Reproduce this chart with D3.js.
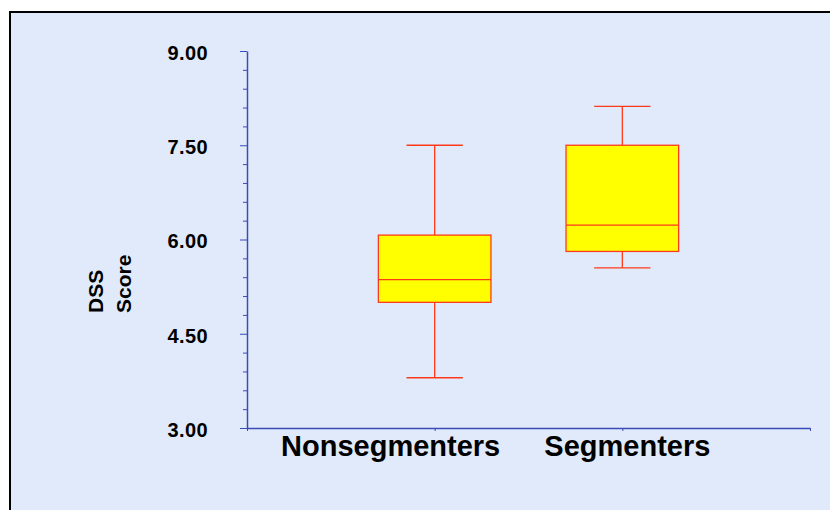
<!DOCTYPE html>
<html><head><meta charset="utf-8">
<script src="https://cdn.jsdelivr.net/npm/d3@7"></script>
<style>body{margin:0;background:#fff;} svg{display:block;}</style>
</head><body>
<svg id="c" width="830" height="510"></svg>
<script>
const categories = ["Nonsegmenters", "Segmenters"];
const whiskerLow = [3.80, 5.55];
const q1 = [5.00, 5.81];
const median = [5.36, 6.23];
const q3 = [6.07, 7.50];
const whiskerHigh = [7.50, 8.12];
const yMajorTicks = [3.00, 4.50, 6.00, 7.50, 9.00];
const yLabelLines = ["DSS", "Score"];

const svg = d3.select("#c");
svg.append("rect").attr("x", 10).attr("y", 12).attr("width", 900).attr("height", 600)
  .attr("fill", "#e0eafa").attr("stroke", "#000").attr("stroke-width", 2);

const axisColor = "#3a4bb8";
const x = d3.scaleLinear().domain([0, 3]).range([247, 810]);
const y = d3.scaleLinear().domain([3, 9]).range([428, 51]);

// minor y ticks
const minor = d3.range(3, 9.001, 0.3).filter(v => !yMajorTicks.some(m => Math.abs(m - v) < 1e-6));
const gMinor = svg.append("g").attr("transform", "translate(247,0)")
  .call(d3.axisLeft(y).tickValues(minor).tickSize(4).tickFormat(""));
gMinor.select(".domain").remove();
gMinor.selectAll("line").attr("stroke", axisColor);

const gY = svg.append("g").attr("transform", "translate(247,0)")
  .call(d3.axisLeft(y).tickValues(yMajorTicks).tickSize(7).tickSizeOuter(0).tickPadding(32).tickFormat(d3.format(".2f")));
gY.select(".domain").attr("stroke", axisColor).attr("stroke-width", 1.5);
gY.selectAll("line").attr("stroke", axisColor);
gY.selectAll("text").attr("font-family", "Liberation Sans, Arial, sans-serif")
  .attr("font-weight", "bold").attr("font-size", 20).attr("letter-spacing", 0.4)
  .attr("dy", "0.42em").attr("fill", "#000");

const gX = svg.append("g").attr("transform", "translate(0,428)")
  .call(d3.axisBottom(x).tickValues([0, 1, 2, 3]).tickSize(3).tickSizeOuter(0).tickFormat(""));
gX.select(".domain").attr("stroke", axisColor).attr("stroke-width", 1.5);
gX.selectAll("line").attr("stroke", axisColor);

// category labels
const labelOffsets = [-44, 5];
svg.selectAll("text.cat").data(categories).join("text").attr("class", "cat")
  .attr("x", (d, i) => x(i + 1) + labelOffsets[i]).attr("y", 456)
  .attr("text-anchor", "middle").attr("font-family", "Liberation Sans, Arial, sans-serif")
  .attr("font-weight", "bold").attr("font-size", 29).attr("fill", "#000").text(d => d);

// y label
svg.selectAll("text.ylab").data(yLabelLines).join("text").attr("class", "ylab")
  .attr("transform", (d, i) => `translate(${103 + i * 28},313) rotate(-90)`)
  .attr("text-anchor", "start").attr("font-family", "Liberation Sans, Arial, sans-serif")
  .attr("font-weight", "bold").attr("font-size", 21).attr("fill", "#000").text(d => d);

// boxes
const bw = 0.6, cw = 0.3;
const red = "#ff3a1a";
const g = svg.append("g");
categories.forEach((c, i) => {
  const cx = x(i + 1);
  const half = (x(bw) - x(0)) / 2, chalf = (x(cw) - x(0)) / 2;
  g.append("line").attr("x1", cx).attr("x2", cx).attr("y1", y(whiskerHigh[i])).attr("y2", y(q3[i])).attr("stroke", red).attr("stroke-width", 1.3);
  g.append("line").attr("x1", cx).attr("x2", cx).attr("y1", y(q1[i])).attr("y2", y(whiskerLow[i])).attr("stroke", red).attr("stroke-width", 1.3);
  g.append("line").attr("x1", cx - chalf).attr("x2", cx + chalf).attr("y1", y(whiskerHigh[i])).attr("y2", y(whiskerHigh[i])).attr("stroke", red).attr("stroke-width", 1.3);
  g.append("line").attr("x1", cx - chalf).attr("x2", cx + chalf).attr("y1", y(whiskerLow[i])).attr("y2", y(whiskerLow[i])).attr("stroke", red).attr("stroke-width", 1.3);
  g.append("rect").attr("x", cx - half).attr("width", 2 * half).attr("y", y(q3[i])).attr("height", y(q1[i]) - y(q3[i]))
    .attr("fill", "#ffff00").attr("stroke", red).attr("stroke-width", 1.3);
  g.append("line").attr("x1", cx - half).attr("x2", cx + half).attr("y1", y(median[i])).attr("y2", y(median[i])).attr("stroke", red).attr("stroke-width", 1.3);
});
</script>
</body></html>
